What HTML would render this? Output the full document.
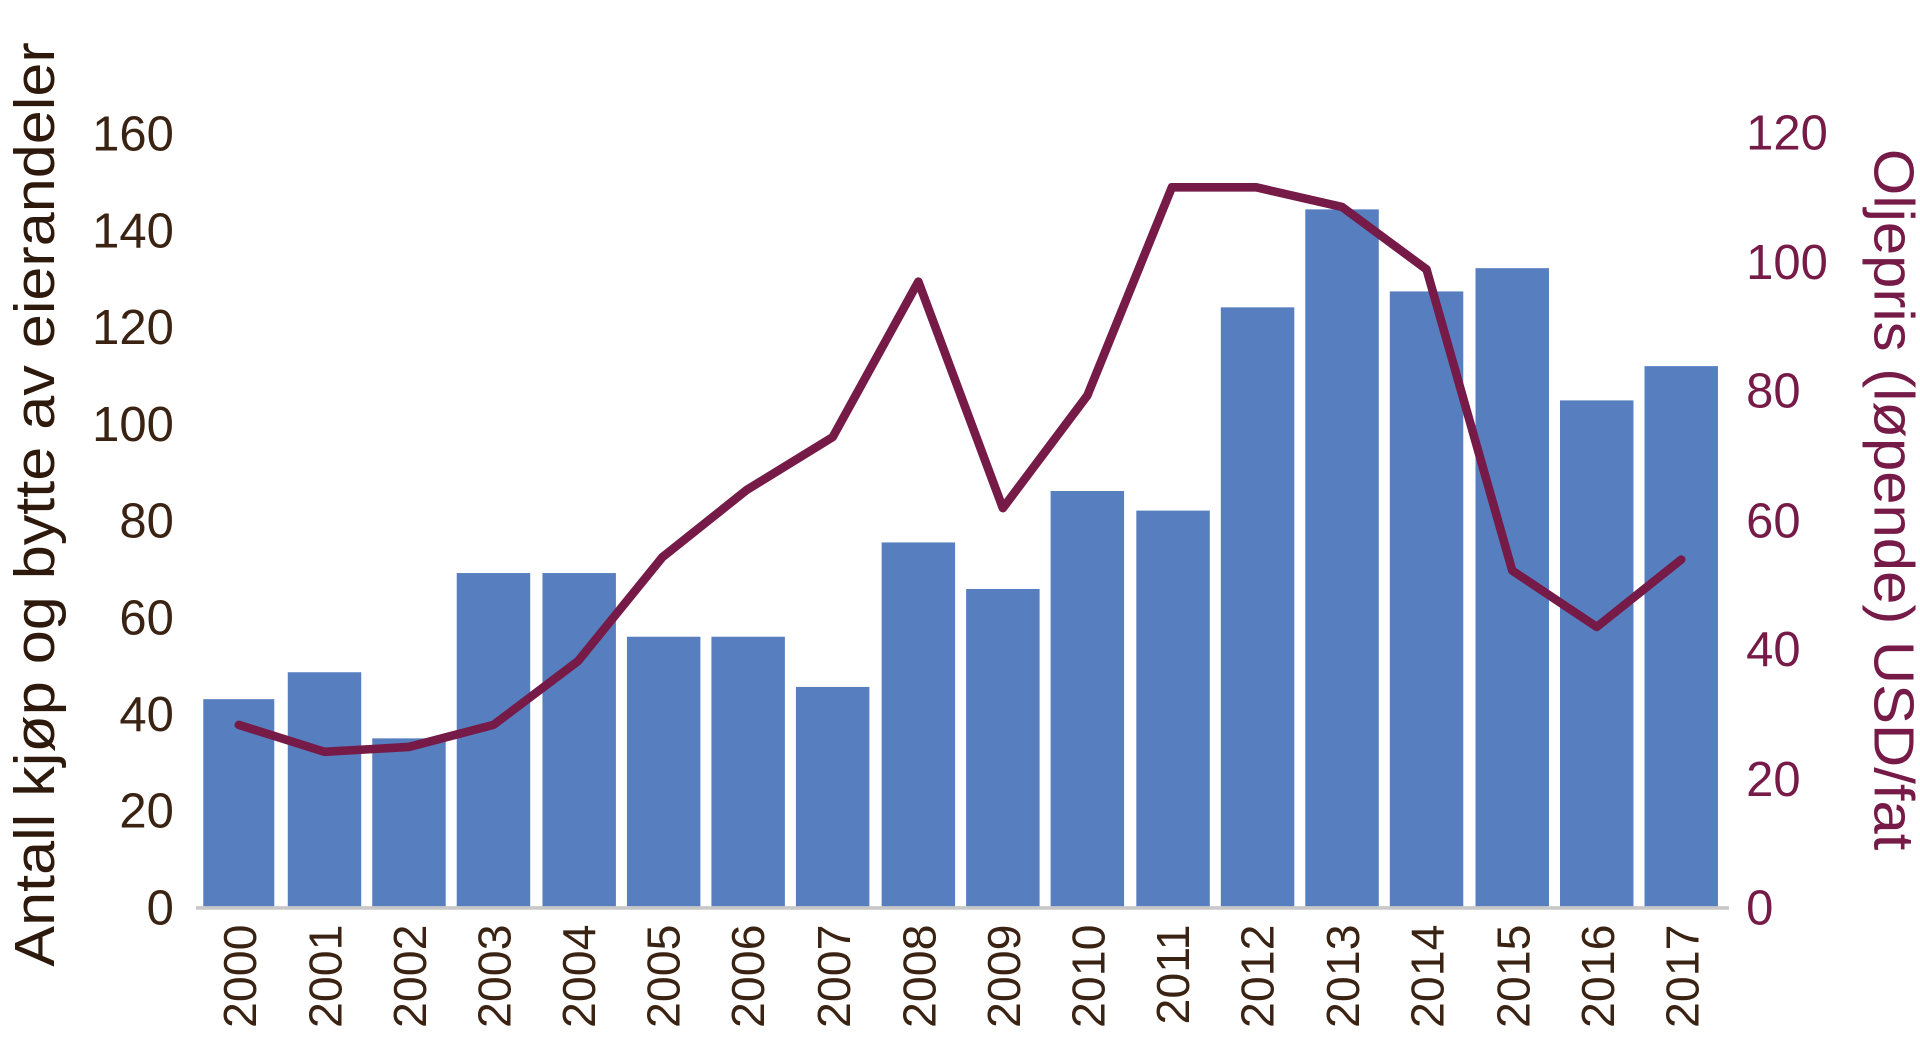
<!DOCTYPE html>
<html><head><meta charset="utf-8"><style>html,body{margin:0;padding:0;background:#fff;width:1920px;height:1055px;overflow:hidden}</style></head><body>
<svg width="1920" height="1055" viewBox="0 0 1568 861.6" preserveAspectRatio="none" xmlns="http://www.w3.org/2000/svg" font-family="'Liberation Sans', sans-serif">
<g fill="#577fbf">
<rect x="166" y="571" width="58" height="170"/>
<rect x="235" y="549" width="60" height="192"/>
<rect x="304" y="603" width="60" height="138"/>
<rect x="373" y="468" width="60" height="273"/>
<rect x="443" y="468" width="60" height="273"/>
<rect x="512" y="520" width="60" height="221"/>
<rect x="581" y="520" width="60" height="221"/>
<rect x="650" y="561" width="60" height="180"/>
<rect x="720" y="443" width="60" height="298"/>
<rect x="789" y="481" width="60" height="260"/>
<rect x="858" y="401" width="60" height="340"/>
<rect x="928" y="417" width="60" height="324"/>
<rect x="997" y="251" width="60" height="490"/>
<rect x="1066" y="171" width="60" height="570"/>
<rect x="1135" y="238" width="60" height="503"/>
<rect x="1205" y="219" width="60" height="522"/>
<rect x="1274" y="327" width="60" height="414"/>
<rect x="1343" y="299" width="60" height="442"/>
</g>
<line x1="160" y1="741.5" x2="1412" y2="741.5" stroke="#c8c8c8" stroke-width="3"/>
<polyline fill="none" stroke="#761a47" stroke-width="7" stroke-linejoin="round" stroke-linecap="round" points="195,592 265,614 334,610 403,592 472,540 541,455 610,400 680,357 750,230 819,415 888,323 957,153 1026,153 1096,169 1165,220 1235,466 1304,512 1373,457"/>
<g fill="#3a2312" font-size="40" text-anchor="end">
<text x="142" y="755">0</text><text x="142" y="676">20</text><text x="142" y="597">40</text><text x="142" y="518">60</text><text x="142" y="439">80</text><text x="142" y="360">100</text><text x="142" y="281">120</text><text x="142" y="202">140</text><text x="142" y="123">160</text>
</g>
<g fill="#761a47" font-size="40">
<text x="1426" y="755">0</text><text x="1426" y="650">20</text><text x="1426" y="544">40</text><text x="1426" y="439">60</text><text x="1426" y="333">80</text><text x="1426" y="228">100</text><text x="1426" y="122">120</text>
</g>
<g fill="#3a2312" font-size="38" text-anchor="end">
<text transform="translate(209,755) rotate(-90)">2000</text>
<text transform="translate(279,755) rotate(-90)">2001</text>
<text transform="translate(348,755) rotate(-90)">2002</text>
<text transform="translate(417,755) rotate(-90)">2003</text>
<text transform="translate(486,755) rotate(-90)">2004</text>
<text transform="translate(555,755) rotate(-90)">2005</text>
<text transform="translate(624,755) rotate(-90)">2006</text>
<text transform="translate(694,755) rotate(-90)">2007</text>
<text transform="translate(764,755) rotate(-90)">2008</text>
<text transform="translate(833,755) rotate(-90)">2009</text>
<text transform="translate(902,755) rotate(-90)">2010</text>
<text transform="translate(971,755) rotate(-90)">2011</text>
<text transform="translate(1040,755) rotate(-90)">2012</text>
<text transform="translate(1110,755) rotate(-90)">2013</text>
<text transform="translate(1179,755) rotate(-90)">2014</text>
<text transform="translate(1249,755) rotate(-90)">2015</text>
<text transform="translate(1318,755) rotate(-90)">2016</text>
<text transform="translate(1387,755) rotate(-90)">2017</text>
</g>
<text transform="translate(44,412) rotate(-90)" fill="#2e1a0c" font-size="46" text-anchor="middle" textLength="755" lengthAdjust="spacingAndGlyphs">Antall kjøp og bytte av eierandeler</text>
<text transform="translate(1531,408) rotate(90)" fill="#761a47" font-size="46" text-anchor="middle" textLength="573" lengthAdjust="spacingAndGlyphs">Oljepris (løpende) USD/fat</text>
</svg>
</body></html>
